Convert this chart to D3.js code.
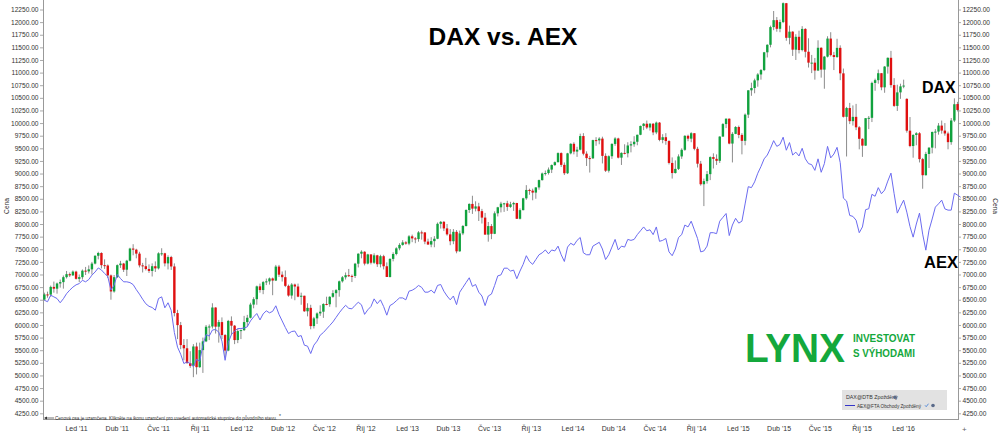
<!DOCTYPE html>
<html><head><meta charset="utf-8">
<script src="https://cdn.jsdelivr.net/npm/d3@7"></script>
<style>body{margin:0;background:#fff}svg{display:block}</style>
</head><body>
<svg id="chart" width="1000" height="434"></svg>
<script>
// ---- data: DAX weekly candles (weeks ending Friday, first week 2010-10-22) ----
const firstWeek = "2010-10-22";
const dax_open = [
6502,6605,6601,6754,6719,6822,6849,6947,7007,6983,7057,
6914,6947,7076,7062,7102,7216,7371,7426,7185,7178,6982,6664,6947,7185,7217,7095,7273,7514,7492,7413,7181,7164,7109,7070,7164,7121,7419,7420,7220,7345,7159,6236,5997,5602,5538,5246,5190,5574,5164,5502,5675,5965,5970,6346,5966,6057,5800,5493,6080,5986,5701,5879,
5898,6057,6143,6404,6511,6765,6692,6849,6864,6922,6880,7157,6996,6947,6775,6583,6801,6762,6561,6579,6271,6339,5978,6131,6229,6263,6416,6410,6558,6630,6690,6865,6945,6986,6972,6971,7214,7412,7451,7216,7398,7233,7380,7203,7363,7163,6951,7309,7406,7518,7586,7636,
7612,7756,7715,7702,7834,7833,7652,7593,7661,7708,8004,8043,7913,7795,7659,7845,7459,7814,7961,8278,8398,8305,8349,8255,8127,7790,7959,7806,8212,8331,8403,8410,8339,8390,8416,8104,8275,8509,8675,8661,8623,8725,8870,9001,9010,9078,9168,9225,9405,9172,9006,9400,
9589,9435,9473,9743,9393,9306,9301,9662,9657,9692,9350,9056,9343,9587,9695,9315,9409,9401,9556,9581,9630,9768,9943,9987,9912,9987,9815,10009,9666,9720,9644,9210,9010,9092,9339,9470,9747,9691,9799,9490,9195,8788,8850,8988,9326,9291,9252,9732,9980,10087,9594,9786,
9922,9765,9648,10167,10649,10694,10846,10963,11050,11402,11551,11901,12039,11868,12001,12375,11689,11811,11454,11709,11447,11865,11413,11197,11197,11041,11492,11059,11316,11674,11347,11309,11490,10985,10124,10298,10038,10123,9916,9688,9553,10097,10104,10795,10850,10988,10708,11119,11293,10752,10340,10608,
10727,10480,9849,9545,9764,9798,9286,8967,9388,9513,9824,9831,9950,9851,9794,9622,10051,10377];
const dax_high = [
6640,6660,6780,6860,6840,6900,6980,7070,7040,7080,7075,
7000,7100,7150,7180,7250,7380,7450,7440,7300,7200,7000,6990,7200,7270,7230,7290,7530,7600,7510,7450,7230,7330,7200,7220,7260,7440,7520,7430,7380,7370,7220,6300,6060,5720,5720,5480,5620,5650,5650,5750,6000,6010,6430,6350,6100,6150,5820,6100,6170,6000,5920,5910,
6180,6200,6440,6550,6780,6820,6870,6920,6940,6940,7190,7190,7060,7080,6800,6830,6820,6820,6640,6580,6430,6400,6160,6250,6390,6430,6560,6570,6690,6710,6880,6970,7040,7110,7000,7230,7420,7480,7460,7410,7400,7420,7390,7390,7390,7240,7320,7440,7540,7620,7680,7660,
7780,7790,7740,7860,7870,7840,7710,7740,7760,8030,8060,8060,8000,7900,7900,7880,7870,7980,8290,8410,8560,8450,8420,8300,8220,8040,8000,8250,8340,8440,8420,8460,8440,8440,8420,8310,8520,8770,8700,8700,8730,8880,9020,9060,9120,9180,9240,9420,9420,9220,9410,9600,
9620,9530,9790,9800,9440,9350,9670,9720,9720,9730,9400,9360,9600,9720,9710,9420,9580,9620,9640,9740,9770,9950,10000,10050,10000,10000,10030,10020,9780,9800,9660,9320,9260,9380,9500,9760,9770,9820,9800,9530,9250,8900,9050,9340,9400,9380,9740,10000,10090,10090,9820,9940,
9950,9800,10190,10650,10800,10880,10990,11070,11410,11560,11930,12220,12100,12050,12390,12380,11930,11820,11760,11830,11920,11880,11680,11350,11290,11640,11500,11330,11720,11800,11410,11670,11540,11080,10320,10400,10350,10380,9940,9700,10100,10140,10820,10880,11060,10990,11130,11300,11430,10890,10760,10780,
10860,10490,10120,9780,9820,9820,9310,9430,9520,9830,9880,10000,10050,10000,9830,10100,10490,10420];
const dax_low = [
6480,6540,6560,6640,6620,6740,6720,6920,6950,6970,6900,
6850,6900,6990,7020,7000,7200,7300,7120,7110,6930,6500,6640,6930,7130,7050,6970,7260,7380,7320,7140,7040,7080,7030,6960,7050,7100,7370,7160,7100,7090,6170,5720,5520,5300,5230,5150,4966,5020,5150,5050,5660,5700,5930,5830,5650,5720,5360,5480,5800,5620,5640,5720,
5880,5970,6130,6330,6400,6640,6610,6790,6800,6590,6870,6950,6860,6750,6560,6520,6490,6550,6400,6260,6170,5915,5930,6020,6180,6140,6390,6360,6540,6350,6560,6840,6900,6950,6850,6930,7140,7320,7180,7200,7200,7210,7150,7140,7100,6950,6940,7260,7380,7480,7570,7590,
7580,7640,7620,7650,7690,7600,7590,7540,7540,7700,7910,7860,7770,7580,7600,7420,7450,7780,7950,8220,8200,8250,8060,8010,7790,7650,7700,7800,8150,8230,8240,8260,8320,8260,8100,8090,8270,8480,8580,8470,8500,8680,8860,8960,8980,9010,9150,9220,9130,8970,8990,9380,
9380,9330,9460,9360,9150,9020,9290,9550,9580,9200,9030,9020,9290,9550,9300,9170,9380,9320,9420,9530,9560,9760,9860,9880,9850,9760,9780,9640,9600,9570,9180,8900,9000,9070,9290,9450,9640,9620,9460,9120,8760,8355,8800,8870,9100,9170,9210,9730,9900,9580,9220,9780,
9700,9380,9560,10100,10540,10590,10720,10860,11030,11300,11500,11840,11810,11800,11980,11630,11560,11330,11250,11380,11420,11300,11100,10990,10860,11030,10900,10680,11300,11320,11050,11290,10850,10110,9338,9980,9950,9860,9480,9330,9550,9880,10020,10640,10780,10650,10600,10980,10700,10320,10240,10480,
10690,9810,9520,9314,9560,9220,8699,8960,9110,9400,9500,9770,9790,9750,9480,9570,10020,10230];
const dax_close = [
6605,6601,6754,6719,6822,6849,6947,7007,6983,7057,6914,
6947,7076,7062,7102,7216,7371,7426,7185,7178,6982,6664,6947,7185,7217,7095,7273,7514,7492,7413,7181,7164,7109,7070,7164,7121,7419,7420,7220,7345,7159,6236,5997,5602,5538,5246,5190,5574,5164,5502,5675,5965,5970,6346,5966,6057,5800,5493,6080,5986,5701,5879,5898,
6057,6143,6404,6511,6765,6692,6849,6864,6922,6880,7157,6996,6947,6775,6583,6801,6762,6561,6579,6271,6339,5978,6131,6229,6263,6416,6410,6558,6630,6690,6865,6945,6986,6972,6971,7214,7412,7451,7216,7398,7233,7380,7203,7363,7163,6951,7309,7406,7518,7586,7636,7612,
7756,7715,7702,7834,7833,7652,7593,7661,7708,8004,8043,7913,7795,7659,7845,7459,7814,7961,8278,8398,8305,8349,8255,8127,7790,7959,7806,8212,8331,8403,8410,8339,8390,8416,8104,8275,8509,8675,8661,8623,8725,8870,9001,9010,9078,9168,9225,9405,9172,9006,9400,9589,
9435,9473,9743,9393,9306,9301,9662,9657,9692,9350,9056,9343,9587,9695,9315,9409,9401,9556,9581,9630,9768,9943,9987,9912,9987,9815,10009,9666,9720,9644,9210,9010,9092,9339,9470,9747,9691,9799,9490,9195,8788,8850,8988,9326,9291,9252,9732,9980,10087,9594,9786,9922,
9765,9648,10167,10649,10694,10846,10963,11050,11402,11551,11901,12039,11868,12001,12375,11689,11811,11454,11709,11447,11865,11413,11197,11197,11041,11492,11059,11316,11674,11347,11309,11490,10985,10124,10298,10038,10123,9916,9688,9553,10097,10104,10795,10850,10988,10708,11119,11293,10752,10340,10608,10727,
10743,9849,9545,9764,9798,9286,8967,9388,9513,9824,9831,9950,9851,9794,9622,10051,10373,10260];
// AEX weekly, rebased onto the DAX price axis (as drawn in the comparison)
const aex_rebased = [
6491,6460,6590,6557,6524,6440,6520,6620,6690,6750,
6795,6820,6885,6855,6900,6987,7050,7130,7090,7020,
6960,6690,6790,7000,6921,6855,6855,6840,6800,6700,
6610,6510,6420,6370,6346,6293,6524,6557,6340,6440,
6290,5850,5560,5420,5236,5269,5236,5175,5320,5280,
5600,5810,5780,5900,5910,5860,5680,5300,5650,5810,
5880,5929,5929,5940,5963,6080,6160,6227,6100,6220,
6280,6240,6270,6380,6210,6080,5950,5830,5870,5880,
5770,5790,5600,5580,5434,5600,5680,5797,5850,5920,
5990,6060,6150,6240,6320,6390,6330,6320,6390,6450,
6400,6210,6300,
6365,6517,6422,6498,6365,6194,6384,6422,6479,6536,6536,6498,
6669,6688,6726,6783,6745,6650,6650,6688,6631,6783,6802,6669,6574,6498,6574,6403,6650,6745,6840,6935,6764,6802,6650,6574,6384,6574,6612,6783,6973,6992,7125,7125,7068,7087,6916,7068,7201,7372,7258,7201,7296,7391,7429,7486,7410,7486,7467,7562,7391,7258,7543,7619,
7581,7676,7733,7429,7391,7391,7562,7600,7638,7505,7296,7391,7543,7695,7486,7562,7543,7695,7676,7695,7790,7866,7942,7866,7885,7790,7942,7657,7676,7714,7448,7372,7505,7733,7790,7980,7942,8056,7885,7714,7448,7467,7562,7828,7828,7809,8056,8132,8208,7771,7980,8113,
8018,8056,8398,8740,8721,8835,9006,9139,9291,9367,9500,9652,9538,9576,9720,9462,9614,9367,9424,9348,9500,9291,9196,9177,9063,9291,9025,9196,9538,9310,9386,9519,9215,8512,8455,8170,8151,8075,7828,7942,8284,8303,8588,8550,8721,8600,8672,8850,9008,8600,8216,8350,
8473,8235,7950,7740,8000,8216,7800,7482,7878,8100,8335,8400,8473,8300,8275,8275,8612,8572,8530];
// axis labels
const priceTicks = d3.range(4250, 12251, 250);
const monthNames = ["Led","Dub","Čvc","Říj"];
const tickYears = [2011,2012,2013,2014,2015,2016];
const titleText = "DAX vs. AEX";
const legendItems = ["DAX@DTB Zpožděný", "AEX@FTA Obchody Zpožděný"];
const noteText = "Cenová osa je uzamčena. Klikněte na ikonu uzamčení pro uvedení automatické stupnice do původního stavu.";

// ---- build ----
const svg = d3.select("#chart");
const W = 1000, H = 434;
const L = 43, R = 958, T = 0, B = 419.5;
const start = d3.utcParse("%Y-%m-%d")(firstWeek);
const n = Math.min(dax_open.length, dax_high.length, dax_low.length, dax_close.length);
const candles = d3.range(n).map(i => ({
  date: d3.utcDay.offset(start, 7*i), o: dax_open[i], h: dax_high[i], l: dax_low[i], c: dax_close[i]
}));
const aexPts = aex_rebased.map((v,i) => ({date: d3.utcDay.offset(start, 7*i), v}));

const x = d3.scaleUtc().domain([new Date(Date.UTC(2010,9,19)), new Date(Date.UTC(2016,3,30))]).range([L, R]);
const y = d3.scaleLinear().domain([4250, 12250]).range([413.3, 9.5]);

const font = "'Liberation Sans', Arial, sans-serif";
svg.append("rect").attr("width",W).attr("height",H).attr("fill","#fff");

// axes
const yl = d3.axisLeft(y).tickValues(priceTicks).tickFormat(d3.format(".2f")).tickSize(3).tickPadding(1.5);
const yr = d3.axisRight(y).tickValues(priceTicks).tickFormat(d3.format(".2f")).tickSize(3).tickPadding(1.5);
function styleAxis(g){
  g.select(".domain").remove();
  g.selectAll("line").attr("stroke","#aaa");
  g.selectAll("text").attr("fill","#333").style("font-family",font).style("font-size","6.6px");
}
svg.append("g").attr("transform",`translate(${L},0)`).call(yl).call(styleAxis);
svg.append("g").attr("transform",`translate(${R},0)`).call(yr).call(styleAxis);
svg.append("line").attr("x1",L+0.5).attr("x2",L+0.5).attr("y1",0).attr("y2",B).attr("stroke","#999");
svg.append("line").attr("x1",R+0.5).attr("x2",R+0.5).attr("y1",0).attr("y2",B).attr("stroke","#999");
svg.append("line").attr("x1",L).attr("x2",R+1).attr("y1",B).attr("y2",B).attr("stroke","#999");

// x labels
const xTicks = [];
tickYears.forEach(yr0 => monthNames.forEach((m,k) => {
  const d = new Date(Date.UTC(yr0, k*3, 1));
  if (d <= new Date(Date.UTC(2016,0,2))) xTicks.push({d, label: `${m} '${String(yr0).slice(2)}`});
}));
svg.append("g").selectAll("text").data(xTicks).join("text")
  .attr("x", d => x(d.d)).attr("y", 431)
  .attr("text-anchor","middle").attr("fill","#333")
  .style("font-family",font).style("font-size","7px").text(d => d.label);

// axis titles
svg.append("text").attr("transform","translate(9,206) rotate(-90)").attr("text-anchor","middle")
  .attr("fill","#333").style("font-family",font).style("font-size","6.6px").text("Cena");
svg.append("text").attr("transform","translate(993,206) rotate(90)").attr("text-anchor","middle")
  .attr("fill","#333").style("font-family",font).style("font-size","6.6px").text("Cena");
svg.append("text").attr("x",962).attr("y",432).attr("fill","#666").style("font-family",font).style("font-size","8px").text("+");

// candles
const bw = 2.4;
const cg = svg.append("g");
cg.selectAll("line").data(candles).join("line")
  .attr("x1", d => x(d.date)).attr("x2", d => x(d.date))
  .attr("y1", d => y(d.h)).attr("y2", d => y(d.l))
  .attr("stroke","#8c8c8c").attr("stroke-width",1);
cg.selectAll("rect").data(candles).join("rect")
  .attr("x", d => x(d.date) - bw/2).attr("width", bw)
  .attr("y", d => y(Math.max(d.o,d.c)))
  .attr("height", d => Math.max(1, Math.abs(y(d.o)-y(d.c))))
  .attr("fill", d => d.c >= d.o ? "#11a23e" : "#e01010");

// AEX line
svg.append("path").datum(aexPts)
  .attr("d", d3.line().x(d => x(d.date)).y(d => y(d.v)))
  .attr("fill","none").attr("stroke","#6b6bf0").attr("stroke-width",1);

// title and labels
svg.append("text").attr("x",503).attr("y",45).attr("text-anchor","middle")
  .style("font-family",font).style("font-weight","bold").style("font-size","24.5px").attr("fill","#000").text(titleText);
svg.append("text").attr("x",922).attr("y",93).style("font-family",font).style("font-weight","bold")
  .style("font-size","16px").attr("fill","#000").text("DAX");
svg.append("text").attr("x",924).attr("y",268).style("font-family",font).style("font-weight","bold")
  .style("font-size","16.5px").attr("fill","#000").text("AEX");

// LYNX logo
const green = "#14a83c";
svg.append("text").attr("x",745).attr("y",362).attr("textLength",100).attr("lengthAdjust","spacingAndGlyphs")
  .style("font-family",font).style("font-weight","bold").style("font-size","40.5px").attr("fill",green).text("LYNX");
svg.append("text").attr("x",853).attr("y",341.5).attr("textLength",62).attr("lengthAdjust","spacingAndGlyphs")
  .style("font-family",font).style("font-weight","bold").style("font-size","11.5px").attr("fill",green).text("INVESTOVAT");
svg.append("text").attr("x",853).attr("y",356.5).attr("textLength",62).attr("lengthAdjust","spacingAndGlyphs")
  .style("font-family",font).style("font-weight","bold").style("font-size","11.5px").attr("fill",green).text("S VÝHODAMI");

// legend
const lg = svg.append("g");
lg.append("rect").attr("x",842).attr("y",390).attr("width",105).attr("height",20).attr("fill","#e2e2e2");
lg.append("text").attr("x",846).attr("y",399).style("font-family",font).style("font-size","5.3px").attr("fill","#333").text(legendItems[0]);
lg.append("circle").attr("cx",895).attr("cy",397.2).attr("r",1.8).attr("fill","#5a6a8a");
lg.append("line").attr("x1",845).attr("x2",855).attr("y1",405.5).attr("y2",405.5).attr("stroke","#3535c8").attr("stroke-width",1);
lg.append("text").attr("x",857).attr("y",407.5).attr("textLength",64).attr("lengthAdjust","spacingAndGlyphs")
  .style("font-family",font).style("font-size","5.3px").attr("fill","#333").text(legendItems[1]);
lg.append("path").attr("d","M925,405.3 l1.2,1.4 l2.3,-3").attr("fill","none").attr("stroke","#3a7ad8").attr("stroke-width",0.8);
lg.append("circle").attr("cx",933).attr("cy",405.5).attr("r",1.8).attr("fill","#5a6a8a");

// note
svg.append("line").attr("x1",45).attr("x2",54).attr("y1",418).attr("y2",418).attr("stroke","#333").attr("stroke-width",0.7);
svg.append("path").attr("d","M44,418 l3,-1.5 l0,3 z").attr("fill","#333");
svg.append("text").attr("x",55).attr("y",419.5).attr("textLength",222).attr("lengthAdjust","spacingAndGlyphs")
  .style("font-family",font).style("font-size","5.3px").attr("fill","#333").text(noteText);
svg.append("text").attr("x",279).attr("y",417.5).style("font-family",font).style("font-size","5px").attr("fill","#333").text("*");
</script>
</body></html>
